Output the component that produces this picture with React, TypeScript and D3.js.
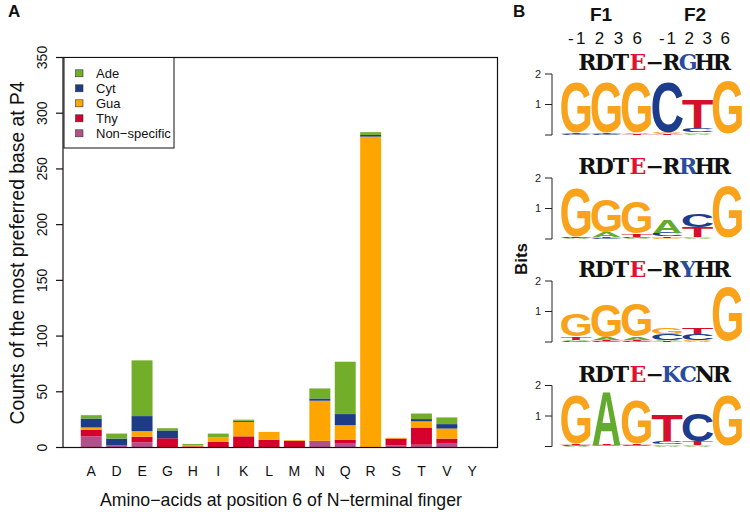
import React from "react";
import * as d3 from "d3";

const aminoAcids = ["A", "D", "E", "G", "H", "I", "K", "L", "M", "N", "Q", "R", "S", "T", "V", "Y"];
const nonSpecific = [10, 2, 4.7, 0, 0, 0, 0, 0, 0, 6, 4, 0, 2, 2.5, 4, 0];
const thy = [6, 0, 5, 8.3, 1, 5, 10, 7, 6, 0, 3, 0, 6, 15, 4, 0];
const gua = [2, 0, 5, 0, 1, 4, 13, 7, 0.6, 36, 13, 279, 0.7, 6, 9, 0];
const cyt = [8, 6, 13.5, 7, 0, 0, 1, 0, 0, 2, 10, 1.5, 0, 2, 4, 0];
const ade = [3, 4.5, 50, 2, 1.2, 3.5, 1, 0, 0, 9, 47, 2.5, 0, 5, 6, 0.5];

const seriesKeys = ["nonSpecific", "thy", "gua", "cyt", "ade"];
const seriesLabels = ["Non\u2212specific", "Thy", "Gua", "Cyt", "Ade"];
const seriesColors = ["#b3508c", "#d6002e", "#ffa500", "#1e3c86", "#72ae2a"];
const yTicks = [0, 50, 100, 150, 200, 250, 300, 350];

const logoTitles = ["RDTE\u2212RGHR", "RDTE\u2212RRHR", "RDTE\u2212RYHR", "RDTE\u2212KCNR"];
const titleRed = [[3], [3], [3], [3]];
const titleBlue = [[6], [6], [6], [5, 6]];
const bases = ["A", "C", "G", "T"];
// bits per position: [A, C, G, T]
const logo1 = [
  [0.03, 0.02, 1.75, 0.02],
  [0.03, 0.02, 1.75, 0.02],
  [0.03, 0.01, 1.75, 0.02],
  [0.03, 1.72, 0.03, 0.02],
  [0.03, 0.13, 0.06, 0.95],
  [0.01, 0.01, 1.8, 0.01],
];
const logo2 = [
  [0.02, 0.02, 1.68, 0.03],
  [0.15, 0.02, 1.13, 0.03],
  [0.03, 0.04, 1.08, 0.1],
  [0.44, 0.13, 0.03, 0.05],
  [0.02, 0.45, 0.05, 0.33],
  [0.01, 0.01, 1.76, 0.01],
];
const logo3 = [
  [0.05, 0.03, 0.78, 0.1],
  [0.1, 0.02, 1.13, 0.03],
  [0.1, 0.03, 1.13, 0.04],
  [0.04, 0.2, 0.2, 0.03],
  [0.02, 0.2, 0.03, 0.23],
  [0.01, 0.01, 1.85, 0.01],
];
const logo4 = [
  [0.02, 0.02, 1.7, 0.03],
  [1.8, 0.02, 0.02, 0.02],
  [0.03, 0.02, 1.5, 0.03],
  [0.03, 0.1, 0.05, 0.88],
  [0.02, 0.97, 0.03, 0.12],
  [0.01, 0.01, 1.75, 0.01],
];
const logos = [logo1, logo2, logo3, logo4];
const logoBaselines = [135, 239, 342, 446.5];

const baseColors: Record<string, string> = { A: "#62ab2c", C: "#1d3c8c", G: "#f8a31b", T: "#d5102c" };
const inkW: Record<string, number> = { A: 0.722, C: 0.633, G: 0.684, T: 0.567 };
const inkTop: Record<string, number> = { A: 0.716, C: 0.735, G: 0.735, T: 0.716 };
const inkBot: Record<string, number> = { A: 0, C: 0.014, G: 0.014, T: 0 };

const SANS = "'Liberation Sans', Arial, Helvetica, sans-serif";

function Logo({ data, base, title, red, blue }: any) {
  const y = d3.scaleLinear().domain([0, 2]).range([base, base - 61]);
  const x = d3.scaleBand().domain(d3.range(6).map(String)).range([561, 743]).padding(0);
  const cw = x.bandwidth();
  const letters: any[] = [];
  data.forEach((col: number[], i: number) => {
    const order = d3.range(4).sort((a, b) => col[a] - col[b]);
    let acc = 0;
    order.forEach((k) => {
      const v = col[k];
      const b = bases[k];
      const yb = y(acc);
      const yt = y(acc + v);
      acc += v;
      const h = yb - yt;
      if (h < 0.5) return;
      const sy = h / ((inkTop[b] + inkBot[b]) * 100);
      const sx = (cw * 0.97) / (inkW[b] * 100);
      const ty = yb - inkBot[b] * 100 * sy;
      const cx = (x(String(i)) as number) + cw / 2;
      letters.push(
        <text
          key={i + b}
          x={0}
          y={0}
          fontSize={100}
          fontFamily={SANS}
          fontWeight="bold"
          textAnchor="middle"
          fill={baseColors[b]}
          transform={`translate(${cx},${ty}) scale(${sx},${sy})`}
        >
          {b}
        </text>
      );
    });
  });
  const chars = title.split("");
  const tb = base - 65;
  return (
    <g>
      {chars.map((c: string, i: number) => (
        <text
          key={"t" + i}
          x={579 + 16.8 * i + 8.4}
          y={tb}
          fontSize={22}
          fontFamily="'DejaVu Serif', serif"
          fontWeight="bold"
          textAnchor="middle"
          fill={red.includes(i) ? "#e0102e" : blue.includes(i) ? "#2a4c9c" : "#111"}
        >
          {c}
        </text>
      ))}
      <line x1={552} x2={552} y1={y(0)} y2={y(2)} stroke="#222" strokeWidth={1} />
      {[0, 1, 2].map((t) => (
        <g key={"a" + t}>
          <line x1={545} x2={552} y1={y(t)} y2={y(t)} stroke="#222" strokeWidth={1} />
          {t > 0 && (
            <text x={538} y={y(t)} dy="0.35em" fontSize={11} fontFamily={SANS} textAnchor="middle" fill="#222">
              {t}
            </text>
          )}
        </g>
      ))}
      {letters}
    </g>
  );
}

export default function App() {
  const rows = aminoAcids.map((a, i) => ({
    aa: a,
    nonSpecific: nonSpecific[i],
    thy: thy[i],
    gua: gua[i],
    cyt: cyt[i],
    ade: ade[i],
  }));
  const stacked = d3.stack<any>().keys(seriesKeys)(rows);
  const x = d3.scaleBand().domain(aminoAcids).range([63.5, 500]).paddingInner(0.175).paddingOuter(0.68);
  const y = d3.scaleLinear().domain([0, 350]).range([447.5, 57.5]);
  const boxL = 63, boxR = 497.5, boxT = 57.5, boxB = 447.5;
  const legendItems = [4, 3, 2, 1, 0];

  return (
    <svg width={750} height={512} style={{ position: "absolute", left: 0, top: 0, background: "#fff" }}>
      <rect x={0} y={0} width={750} height={512} fill="#fff" />
      {/* Panel A */}
      <text x={8} y={17} fontSize={17} fontWeight="bold" fontFamily={SANS} fill="#111">A</text>
      {stacked.map((s, si) => (
        <g key={s.key} fill={seriesColors[si]}>
          {s.map((d: any, i: number) => {
            const h = y(d[0]) - y(d[1]);
            if (h <= 0) return null;
            return <rect key={i} x={x(aminoAcids[i])} y={y(d[1])} width={x.bandwidth()} height={h} />;
          })}
        </g>
      ))}
      <rect x={boxL} y={boxT} width={boxR - boxL} height={boxB - boxT} fill="none" stroke="#111" strokeWidth={1.2} />
      {yTicks.map((t) => (
        <g key={t}>
          <line x1={56} x2={boxL} y1={y(t)} y2={y(t)} stroke="#111" strokeWidth={1.2} />
          <text
            transform={`translate(47,${y(t)}) rotate(-90)`}
            fontSize={14}
            fontFamily={SANS}
            textAnchor="middle"
            fill="#111"
          >
            {t}
          </text>
        </g>
      ))}
      {aminoAcids.map((a) => (
        <text key={a} x={(x(a) as number) + x.bandwidth() / 2} y={476} fontSize={14} fontFamily={SANS} textAnchor="middle" fill="#111">
          {a}
        </text>
      ))}
      <text x={281} y={506} fontSize={17.7} fontFamily={SANS} textAnchor="middle" fill="#111">
        Amino{"\u2212"}acids at position 6 of N{"\u2212"}terminal finger
      </text>
      <text transform={`translate(24,253) rotate(-90)`} fontSize={19.3} fontFamily={SANS} textAnchor="middle" fill="#111">
        Counts of the most preferred base at P4
      </text>
      {/* Legend */}
      <rect x={64} y={57.5} width={110} height={90.5} fill="#fff" stroke="#111" strokeWidth={1} />
      {legendItems.map((k, j) => (
        <g key={k}>
          <rect x={75.5} y={73.3 + 15 * j - 3.5} width={7.5} height={7} fill={seriesColors[k]} stroke="#333" strokeWidth={0.6} />
          <text x={96} y={73.3 + 15 * j} dy="0.35em" fontSize={13} fontFamily={SANS} fill="#111">
            {seriesLabels[k]}
          </text>
        </g>
      ))}
      {/* Panel B */}
      <text x={513} y={17} fontSize={17} fontWeight="bold" fontFamily={SANS} fill="#111">B</text>
      <text x={601} y={21} fontSize={19} fontWeight="bold" fontFamily={SANS} textAnchor="middle" fill="#111">F1</text>
      <text x={695} y={21} fontSize={19} fontWeight="bold" fontFamily={SANS} textAnchor="middle" fill="#111">F2</text>
      <text x={568} y={44} fontSize={17} fontFamily={SANS} textLength={74} lengthAdjust="spacing" fill="#111">-1 2 3 6</text>
      <text x={659} y={44} fontSize={17} fontFamily={SANS} textLength={71} lengthAdjust="spacing" fill="#111">-1 2 3 6</text>
      <text transform="translate(527,259) rotate(-90)" fontSize={17} fontWeight="bold" fontFamily={SANS} textAnchor="middle" fill="#111">
        Bits
      </text>
      {logos.map((l, i) => (
        <Logo key={i} data={l} base={logoBaselines[i]} title={logoTitles[i]} red={titleRed[i]} blue={titleBlue[i]} />
      ))}
    </svg>
  );
}
